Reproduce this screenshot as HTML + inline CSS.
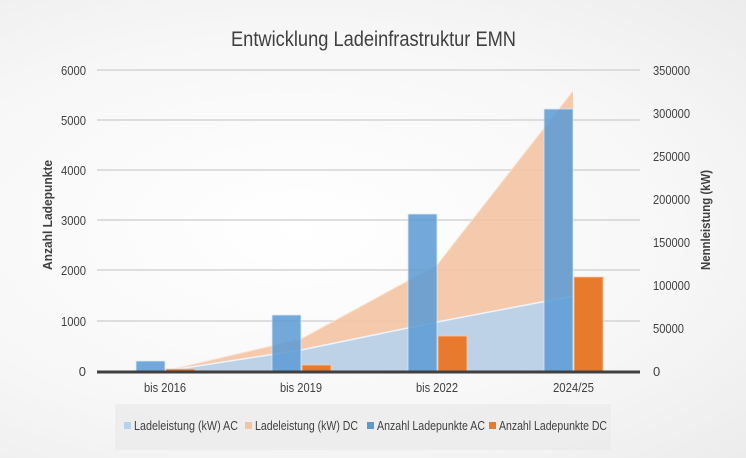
<!DOCTYPE html>
<html><head><meta charset="utf-8"><style>
html,body{margin:0;padding:0}
body{width:746px;height:458px;overflow:hidden;background:radial-gradient(ellipse at 40% 50%,#ffffff 0%,#f7f7f7 60%,#ececec 100%);font-family:"Liberation Sans",sans-serif}
</style></head><body>
<svg width="746" height="458" xmlns="http://www.w3.org/2000/svg" style="position:absolute;left:0;top:0;font-family:'Liberation Sans',sans-serif">
<text x="231" y="46" textLength="285" lengthAdjust="spacingAndGlyphs" font-size="21" fill="#404040">Entwicklung Ladeinfrastruktur EMN</text>
<g stroke="#d4d4d4" stroke-width="1.5">
<line x1="97" y1="70" x2="640" y2="70"/><line x1="97" y1="120" x2="640" y2="120"/><line x1="97" y1="170" x2="640" y2="170"/><line x1="97" y1="220" x2="640" y2="220"/><line x1="97" y1="270" x2="640" y2="270"/><line x1="97" y1="321" x2="640" y2="321"/>
</g>
<g font-size="13" fill="#404040" text-anchor="end">
<text x="86" y="75" textLength="25" lengthAdjust="spacingAndGlyphs">6000</text><text x="86" y="125" textLength="25" lengthAdjust="spacingAndGlyphs">5000</text><text x="86" y="175" textLength="25" lengthAdjust="spacingAndGlyphs">4000</text><text x="86" y="225" textLength="25" lengthAdjust="spacingAndGlyphs">3000</text><text x="86" y="275" textLength="25" lengthAdjust="spacingAndGlyphs">2000</text><text x="86" y="326" textLength="25" lengthAdjust="spacingAndGlyphs">1000</text><text x="86" y="376">0</text>
</g>
<g font-size="13" fill="#404040">
<text x="653" y="75" textLength="37" lengthAdjust="spacingAndGlyphs">350000</text><text x="653" y="118" textLength="37" lengthAdjust="spacingAndGlyphs">300000</text><text x="653" y="161" textLength="37" lengthAdjust="spacingAndGlyphs">250000</text><text x="653" y="204" textLength="37" lengthAdjust="spacingAndGlyphs">200000</text><text x="653" y="247" textLength="37" lengthAdjust="spacingAndGlyphs">150000</text><text x="653" y="290" textLength="37" lengthAdjust="spacingAndGlyphs">100000</text><text x="653" y="333" textLength="31" lengthAdjust="spacingAndGlyphs">50000</text><text x="653" y="376">0</text>
</g>
<text transform="translate(52,215) rotate(-90)" x="-55" textLength="110" lengthAdjust="spacingAndGlyphs" font-size="13" font-weight="bold" fill="#404040">Anzahl Ladepunkte</text>
<text transform="translate(710,220) rotate(-90)" x="-50" textLength="100" lengthAdjust="spacingAndGlyphs" font-size="13" font-weight="bold" fill="#404040">Nennleistung (kW)</text>
<polygon points="165,371 301,339 437,265 573,91 573,371" fill="#f4c3a2" opacity="0.9"/>
<polyline points="165,371 301,339 437,265 573,91" fill="none" stroke="#fbe3d3" stroke-width="1"/>
<polygon points="165,371 301,350 437,322 573,296 573,371" fill="#b7d2ea" opacity="0.92"/>
<polyline points="165,371 301,350 437,322 573,296" fill="none" stroke="#eef4fa" stroke-width="1.5"/>
<g fill="#5b9bd5" opacity="0.85" stroke="#dbe8f5" stroke-width="0.8">
<rect x="136" y="361" width="29" height="10"/>
<rect x="272" y="315" width="29" height="56"/>
<rect x="408" y="214" width="29" height="157"/>
<rect x="544" y="109" width="29" height="262"/>
</g>
<g fill="#e87a2e" stroke="#f6c9a8" stroke-width="0.8">
<rect x="166" y="369" width="29" height="2"/>
<rect x="302" y="365" width="29" height="6"/>
<rect x="438" y="336" width="29" height="35"/>
<rect x="574" y="277" width="29" height="94"/>
</g>
<line x1="97" y1="372" x2="640" y2="372" stroke="#404040" stroke-width="3"/>
<g font-size="13" fill="#404040">
<text x="144" y="392" textLength="42" lengthAdjust="spacingAndGlyphs">bis 2016</text><text x="280" y="392" textLength="42" lengthAdjust="spacingAndGlyphs">bis 2019</text><text x="416" y="392" textLength="42" lengthAdjust="spacingAndGlyphs">bis 2022</text><text x="553" y="392" textLength="41" lengthAdjust="spacingAndGlyphs">2024/25</text>
</g>
<rect x="115" y="404" width="496" height="46" fill="#ebebeb" opacity="0.8"/>
<g font-size="12.5" fill="#404040">
<rect x="124" y="422" width="7" height="7" fill="#b7d2ea"/><text x="134" y="430" textLength="104" lengthAdjust="spacingAndGlyphs">Ladeleistung (kW) AC</text>
<rect x="245" y="422" width="7" height="7" fill="#f4c3a2"/><text x="255" y="430" textLength="103" lengthAdjust="spacingAndGlyphs">Ladeleistung (kW) DC</text>
<rect x="367" y="422" width="7" height="7" fill="#5b9bd5"/><text x="377" y="430" textLength="108" lengthAdjust="spacingAndGlyphs">Anzahl Ladepunkte AC</text>
<rect x="489" y="422" width="7" height="7" fill="#e87a2e"/><text x="499" y="430" textLength="108" lengthAdjust="spacingAndGlyphs">Anzahl Ladepunkte DC</text>
</g>
</svg>
</body></html>
